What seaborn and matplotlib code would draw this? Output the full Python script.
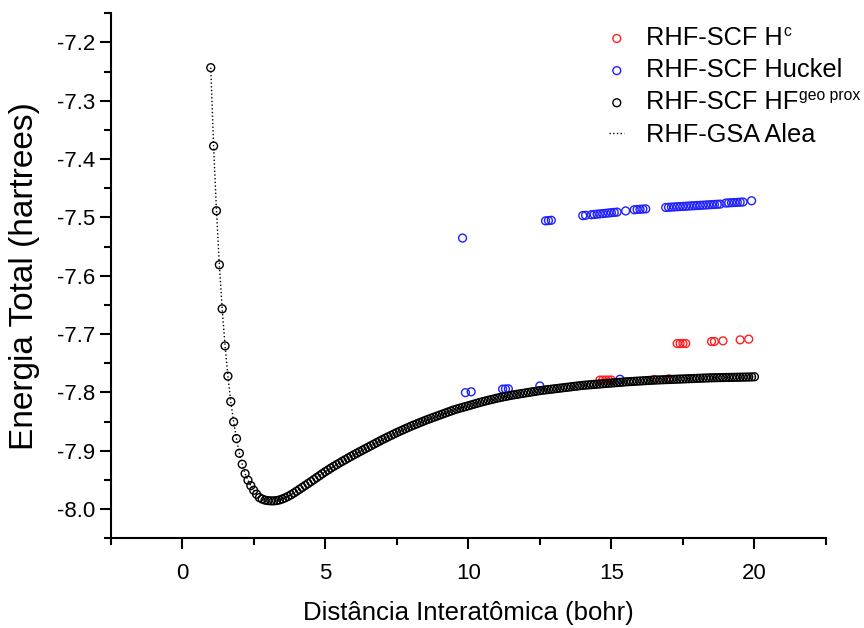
import numpy as np
import pandas as pd
import matplotlib
matplotlib.use("Agg")
import matplotlib.pyplot as plt
import seaborn as sns

# ---- data ----
distance = [
    1.0, 1.1, 1.2, 1.3, 1.4, 1.5, 1.6, 1.7, 1.8, 1.9,
    2.0, 2.1, 2.2, 2.3, 2.4, 2.5, 2.6, 2.7, 2.8, 2.9,
    3.0, 3.1, 3.2, 3.3, 3.4, 3.5, 3.6, 3.7, 3.8, 3.9,
    4.0, 4.1, 4.2, 4.3, 4.4, 4.5, 4.6, 4.7, 4.8, 4.9,
    5.0, 5.1, 5.2, 5.3, 5.4, 5.5, 5.6, 5.7, 5.8, 5.9,
    6.0, 6.1, 6.2, 6.3, 6.4, 6.5, 6.6, 6.7, 6.8, 6.9,
    7.0, 7.1, 7.2, 7.3, 7.4, 7.5, 7.6, 7.7, 7.8, 7.9,
    8.0, 8.1, 8.2, 8.3, 8.4, 8.5, 8.6, 8.7, 8.8, 8.9,
    9.0, 9.1, 9.2, 9.3, 9.4, 9.5, 9.6, 9.7, 9.8, 9.9,
    10.0, 10.1, 10.2, 10.3, 10.4, 10.5, 10.6, 10.7, 10.8, 10.9,
    11.0, 11.1, 11.2, 11.3, 11.4, 11.5, 11.6, 11.7, 11.8, 11.9,
    12.0, 12.1, 12.2, 12.3, 12.4, 12.5, 12.6, 12.7, 12.8, 12.9,
    13.0, 13.1, 13.2, 13.3, 13.4, 13.5, 13.6, 13.7, 13.8, 13.9,
    14.0, 14.1, 14.2, 14.3, 14.4, 14.5, 14.6, 14.7, 14.8, 14.9,
    15.0, 15.1, 15.2, 15.3, 15.4, 15.5, 15.6, 15.7, 15.8, 15.9,
    16.0, 16.1, 16.2, 16.3, 16.4, 16.5, 16.6, 16.7, 16.8, 16.9,
    17.0, 17.1, 17.2, 17.3, 17.4, 17.5, 17.6, 17.7, 17.8, 17.9,
    18.0, 18.1, 18.2, 18.3, 18.4, 18.5, 18.6, 18.7, 18.8, 18.9,
    19.0, 19.1, 19.2, 19.3, 19.4, 19.5, 19.6, 19.7, 19.8, 19.9,
    20.0,
]
energy_hf = [
    -7.2434, -7.3777, -7.4887, -7.5813, -7.6568, -7.7203, -7.7722, -7.8158, -7.8506, -7.8792,
    -7.9043, -7.9232, -7.9393, -7.9506, -7.9599, -7.9678, -7.9746, -7.9804, -7.9830, -7.9848,
    -7.9856, -7.9860, -7.9860, -7.9855, -7.9844, -7.9828, -7.9808, -7.9784, -7.9757, -7.9727,
    -7.9695, -7.9662, -7.9629, -7.9596, -7.9563, -7.9530, -7.9496, -7.9462, -7.9428, -7.9394,
    -7.9360, -7.9329, -7.9298, -7.9268, -7.9239, -7.9210, -7.9182, -7.9154, -7.9126, -7.9098,
    -7.9070, -7.9044, -7.9018, -7.8992, -7.8966, -7.8940, -7.8914, -7.8888, -7.8862, -7.8836,
    -7.8810, -7.8786, -7.8762, -7.8738, -7.8714, -7.8690, -7.8668, -7.8646, -7.8624, -7.8602,
    -7.8580, -7.8560, -7.8540, -7.8520, -7.8500, -7.8480, -7.8462, -7.8444, -7.8426, -7.8408,
    -7.8390, -7.8372, -7.8354, -7.8336, -7.8318, -7.8300, -7.8286, -7.8272, -7.8258, -7.8244,
    -7.8230, -7.8216, -7.8202, -7.8188, -7.8174, -7.8160, -7.8148, -7.8136, -7.8124, -7.8112,
    -7.8100, -7.8090, -7.8080, -7.8070, -7.8060, -7.8050, -7.8042, -7.8034, -7.8026, -7.8018,
    -7.8010, -7.8002, -7.7994, -7.7986, -7.7978, -7.7970, -7.7964, -7.7958, -7.7952, -7.7946,
    -7.7940, -7.7934, -7.7928, -7.7922, -7.7916, -7.7910, -7.7904, -7.7898, -7.7892, -7.7886,
    -7.7880, -7.7876, -7.7872, -7.7868, -7.7864, -7.7860, -7.7856, -7.7852, -7.7848, -7.7844,
    -7.7840, -7.7836, -7.7832, -7.7828, -7.7824, -7.7820, -7.7817, -7.7814, -7.7811, -7.7808,
    -7.7805, -7.7802, -7.7799, -7.7796, -7.7793, -7.7790, -7.7788, -7.7786, -7.7784, -7.7782,
    -7.7780, -7.7778, -7.7776, -7.7774, -7.7772, -7.7770, -7.7768, -7.7766, -7.7764, -7.7762,
    -7.7760, -7.7758, -7.7756, -7.7754, -7.7752, -7.7750, -7.7749, -7.7748, -7.7747, -7.7746,
    -7.7745, -7.7744, -7.7743, -7.7742, -7.7741, -7.7740, -7.7739, -7.7738, -7.7737, -7.7736,
    -7.7733,
]

huckel_x = [9.8, 12.7, 12.8, 12.9,
            14.0, 14.1, 14.3, 14.4, 14.5, 14.6, 14.7, 14.8, 14.9, 15.0, 15.1, 15.2,
            15.5, 15.8, 15.9, 16.0, 16.1, 16.2,
            16.9, 17.0, 17.1, 17.2, 17.3, 17.4, 17.5, 17.6, 17.7, 17.8,
            17.9, 18.0, 18.1, 18.2, 18.3, 18.4, 18.5, 18.6, 18.7, 18.8,
            19.0, 19.1, 19.2, 19.3, 19.4, 19.5, 19.6, 19.9,
            9.9, 10.1, 11.2, 11.3, 11.4, 12.5, 15.3]
huckel_e = [-7.5355, -7.5060, -7.5055, -7.5050,
            -7.4970, -7.4965, -7.4955, -7.4950, -7.4945, -7.4940, -7.4935, -7.4930, -7.4925, -7.4920, -7.4915, -7.4910,
            -7.4890, -7.4870, -7.4865, -7.4862, -7.4858, -7.4855,
            -7.4830, -7.4827, -7.4824, -7.4821, -7.4818, -7.4815, -7.4812, -7.4809, -7.4806, -7.4803,
            -7.4800, -7.4797, -7.4794, -7.4791, -7.4788, -7.4785, -7.4782, -7.4779, -7.4776, -7.4773,
            -7.4755, -7.4752, -7.4749, -7.4746, -7.4743, -7.4740, -7.4737, -7.4715,
            -7.8005, -7.7990, -7.7945, -7.7942, -7.7940, -7.7890, -7.7775]

hc_x = [17.3, 17.4, 17.5, 17.6, 18.5, 18.6, 18.9, 19.5, 19.8,
        14.6, 14.7, 14.8, 14.9, 15.0, 16.5, 17.0]
hc_e = [-7.7163, -7.7163, -7.7162, -7.7162, -7.7129, -7.7128, -7.7117, -7.7100, -7.7088,
        -7.7790, -7.7790, -7.7789, -7.7789, -7.7788, -7.7778, -7.7768]

labels = ["RHF-SCF H", "RHF-SCF Huckel", "RHF-SCF HF", "RHF-GSA Alea"]
label_sups = ["c", None, "geo prox", None]
x_label = "Distância Interatômica (bohr)"
y_label = "Energia Total (hartrees)"
x_ticks = [0, 5, 10, 15, 20]
y_ticks = [-8.0, -7.9, -7.8, -7.7, -7.6, -7.5, -7.4, -7.3, -7.2]

# ---- styling ----
sns.set_style("ticks")
plt.rcParams["font.family"] = ["Liberation Sans", "DejaVu Sans"]
plt.rcParams["text.color"] = "black"
plt.rcParams["axes.labelcolor"] = "black"
plt.rcParams["xtick.color"] = "black"
plt.rcParams["ytick.color"] = "black"

df_hf = pd.DataFrame({"x": distance, "e": energy_hf})
df_hu = pd.DataFrame({"x": huckel_x, "e": huckel_e})
df_hc = pd.DataFrame({"x": hc_x, "e": hc_e})

fig = plt.figure(figsize=(8.64, 6.28), dpi=100)
ax = fig.add_axes([0.128, 0.143, 0.828, 0.836])

msize = 32
sns.scatterplot(data=df_hc, x="x", y="e", ax=ax, marker="o", s=msize,
                facecolor="none", edgecolor="#ff2020", linewidth=1.0,
                label=labels[0], zorder=2)
sns.scatterplot(data=df_hu, x="x", y="e", ax=ax, marker="o", s=msize,
                facecolor="none", edgecolor="#2020ff", linewidth=1.0,
                label=labels[1], zorder=2)
sns.scatterplot(data=df_hf, x="x", y="e", ax=ax, marker="o", s=msize,
                facecolor="none", edgecolor="black", linewidth=1.0,
                label=labels[2], zorder=3)
sns.lineplot(data=df_hf, x="x", y="e", ax=ax, sort=False, color="black",
             linestyle=":", linewidth=1.0, label=labels[3], zorder=4)

ax.set_xlim(-2.5, 22.5)
ax.set_ylim(-8.05, -7.15)
ax.set_xticks(x_ticks)
ax.set_xticks([-2.5, 2.5, 7.5, 12.5, 17.5, 22.5], minor=True)
ax.set_yticks(y_ticks)
ax.set_yticks([-8.05, -7.95, -7.85, -7.75, -7.65, -7.55, -7.45, -7.35, -7.25, -7.15], minor=True)
ax.set_yticklabels([f"{v:.1f}" for v in y_ticks])

for s in ["top", "right"]:
    ax.spines[s].set_visible(False)
for s in ["left", "bottom"]:
    ax.spines[s].set_linewidth(1.5)
    ax.spines[s].set_color("black")

ax.tick_params(axis="both", which="major", direction="out", length=8, width=1.5,
               labelsize=16, colors="black")
ax.tick_params(axis="both", which="minor", direction="out", length=5, width=1.5)
ax.tick_params(axis="x", pad=10)
ax.tick_params(axis="y", pad=3)

ax.set_xlabel(x_label, fontsize=18.5, labelpad=12)
ax.set_ylabel(y_label, fontsize=24)
ax.yaxis.set_label_coords(-0.098, 0.5)

leg = ax.legend(loc="upper left", bbox_to_anchor=(599 / 864, 1 - 16 / 628),
                bbox_transform=fig.transFigure, frameon=False, fontsize=18.3,
                handlelength=0.6, handletextpad=0.85, labelspacing=0.32,
                borderaxespad=0, borderpad=0.4)

# small superscripts appended to the legend labels
fig.canvas.draw()
renderer = fig.canvas.get_renderer()
inv = fig.transFigure.inverted()
for txt, sup in zip(leg.get_texts(), label_sups):
    if not sup:
        continue
    bb = txt.get_window_extent(renderer)
    x0, y0 = inv.transform((bb.x1 + 1, bb.y1 + 2))
    fig.text(x0, y0, sup, fontsize=11.3, ha="left", va="top")

fig.savefig("out.png", dpi=100)
